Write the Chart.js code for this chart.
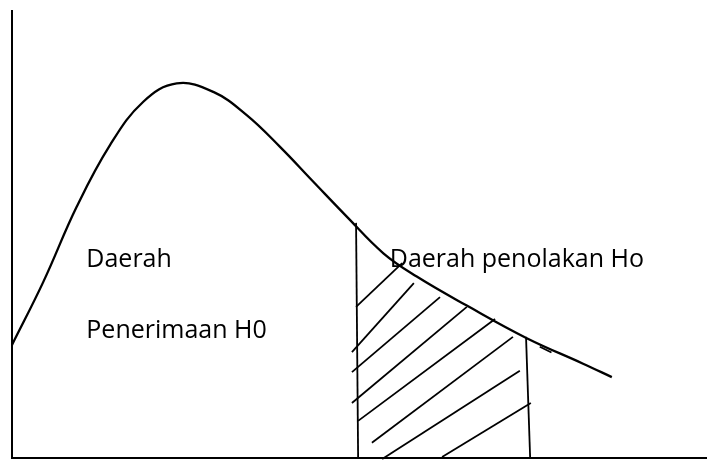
<!DOCTYPE html>
<html>
<head>
    <title>Daerah Penerimaan dan Penolakan H0</title>
    <script src="https://cdn.jsdelivr.net/npm/chart.js"></script>
    <style>
        body {
            margin: 0;
            padding: 0;
            background: #fff;
        }
        canvas {
            display: block;
        }
    </style>
</head>
<body>
    <canvas id="distChart" width="707" height="461"></canvas>

    <script>
        // Kurva distribusi
        const curveX = [0, 0.455, 0.940, 1.424, 1.908, 2.394, 2.926, 3.411, 3.895, 4.379, 4.865,
                        5.397, 5.882, 6.609, 7.481, 8.299, 8.717];
        const curveY = [0.253, 0.394, 0.562, 0.700, 0.797, 0.838, 0.819, 0.767, 0.696, 0.618, 0.540,
                        0.458, 0.406, 0.341, 0.268, 0.211, 0.181];

        // Batas daerah penolakan: [x atas, y atas, x bawah, y bawah]
        const boundLines = [
            [5.00, 0.526, 5.03, 0],
            [7.47, 0.271, 7.53, 0]
        ];

        // Garis arsir: [x1, y1, x2, y2]
        const hatchLines = [
            [5.00, 0.338, 5.67, 0.436],
            [4.94, 0.237, 5.84, 0.391],
            [4.94, 0.192, 6.22, 0.360],
            [4.94, 0.123, 6.61, 0.338],
            [5.03, 0.083, 7.02, 0.311],
            [5.23, 0.034, 7.28, 0.271],
            [5.38, -0.002, 7.38, 0.195],
            [6.25, 0.002, 7.54, 0.123],
            [7.67, 0.249, 7.84, 0.236]
        ];

        // Teks label dan posisi baseline-nya
        const labelTexts = ['Daerah', 'Penerimaan H0', 'Daerah penolakan Ho'];
        const labelX = [1.08, 1.08, 5.49];
        const labelY = [0.427, 0.268, 0.427];

        const lineStyle = {
            showLine: true,
            borderColor: '#000',
            borderWidth: 2,
            pointRadius: 0,
            fill: false,
            clip: false
        };

        const datasets = [];
        datasets.push(Object.assign({}, lineStyle, {
            label: 'kurva',
            data: curveX.map((x, i) => ({ x: x, y: curveY[i] })),
            borderWidth: 2.3,
            tension: 0.4
        }));
        boundLines.concat(hatchLines).forEach((l, i) => {
            datasets.push(Object.assign({}, lineStyle, {
                label: 'garis' + i,
                borderWidth: 1.8,
                data: [{ x: l[0], y: l[1] }, { x: l[2], y: l[3] }]
            }));
        });

        // tulis label teks di koordinat data
        const textPlugin = {
            id: 'areaText',
            afterDatasetsDraw(chart) {
                const c = chart.ctx;
                const xs = chart.scales.x, ys = chart.scales.y;
                c.save();
                c.fillStyle = '#000';
                c.font = '25px "Open Sans", sans-serif';
                c.textBaseline = 'alphabetic';
                labelTexts.forEach((t, i) => {
                    c.fillText(t, xs.getPixelForValue(labelX[i]), ys.getPixelForValue(labelY[i]));
                });
                c.restore();
            }
        };

        const ctx = document.getElementById('distChart').getContext('2d');
        const chart = new Chart(ctx, {
            type: 'scatter',
            data: { datasets: datasets },
            options: {
                animation: false,
                responsive: false,
                layout: { padding: { left: 12, right: 0, top: 11, bottom: 3 } },
                plugins: {
                    legend: { display: false },
                    tooltip: { enabled: false }
                },
                scales: {
                    x: {
                        type: 'linear', min: 0, max: 10.1,
                        ticks: { display: false },
                        grid: { display: false, drawTicks: false },
                        border: { display: true, color: '#000', width: 2 }
                    },
                    y: {
                        type: 'linear', min: 0, max: 1.0,
                        ticks: { display: false },
                        grid: { display: false, drawTicks: false },
                        border: { display: true, color: '#000', width: 2 }
                    }
                }
            },
            plugins: [textPlugin]
        });
    </script>
</body>
</html>
